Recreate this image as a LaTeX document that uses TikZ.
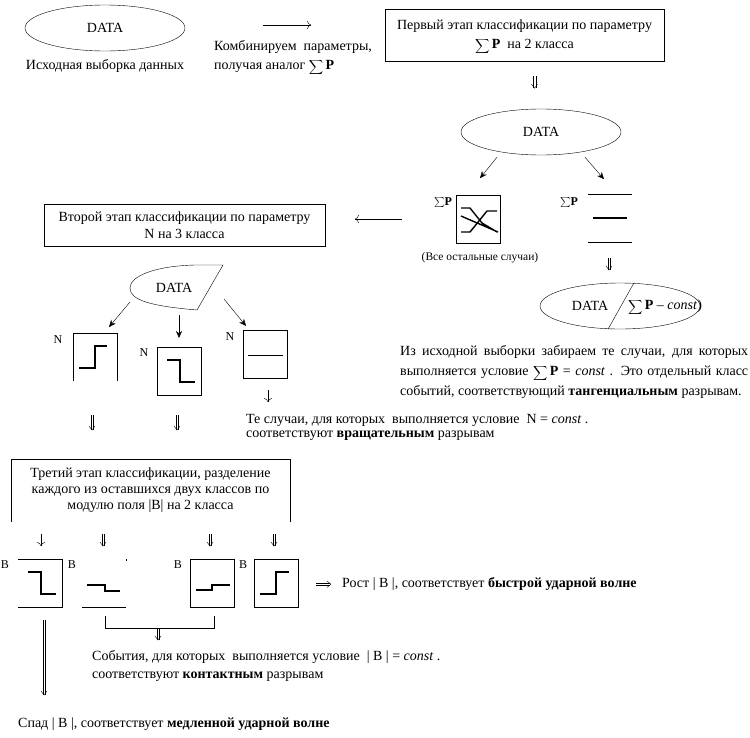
\documentclass[tikz,border=0pt]{standalone}
\usepackage{fontspec}
\setmainfont{Liberation Serif}
\usetikzlibrary{arrows.meta, positioning, calc, shapes.geometric}
\newcommand{\sumP}{\raisebox{-2pt}{\smash{$\displaystyle\sum$}}\,\textbf{P}}
\newcommand{\plotbox}[4]{%
  % square with a curve inside, #2 #3 is its top left corner
  \begin{scope}[shift={(#2, #3)}]
    \node[plotframe] (#1) at (22, 24) {};
    \draw[jump] #4;
  \end{scope}
}
\newcommand{\dblarrow}[4]{%
  % two lines down from anchor #1: x offset #2, y offsets #3 to #4
  \draw[thin] ([shift={(#2-1.2, #3)}] #1) -- ([shift={(#2-1.2, #4)}] #1);
  \draw[thin] ([shift={(#2+1.2, #3)}] #1) -- ([shift={(#2+1.2, #4)}] #1);
  \draw[thin] ([shift={(#2-3, #4-4)}] #1) -- ([shift={(#2, #4)}] #1) -- ([shift={(#2+3, #4-4)}] #1);
}

\begin{document}
\begin{tikzpicture}[
    x=1pt, y=-1pt,
    datablob/.style={ellipse, draw, thin, inner sep=0pt, minimum width=160pt, minimum height=46pt},
    stagebox/.style={rectangle, draw, thin, inner sep=0pt},
    plotframe/.style={rectangle, draw, thin, inner sep=0pt, outer sep=0pt, minimum width=44pt, minimum height=48pt},
    opencase/.style={plotframe, draw=none},
    jump/.style={line width=1.4pt},
    lbl/.style={font=\fontsize{12}{14}\selectfont, inner sep=0pt},
    txt/.style={anchor=west, inner sep=0pt},
    arrow/.style={thin, -{Stealth[length=7pt,width=6pt]}},
    openarrow/.style={thin, -{To[length=4pt]}},
    font=\fontsize{14}{16}\selectfont
  ]
  \useasboundingbox (0, 0) rectangle (750, 737);

  % source sample
  \node[datablob] (data0) at (105, 28) {DATA};
  \node[inner sep=0pt] (data0txt) at (105, 66) {Исходная выборка данных};
  \coordinate (combfrom) at (263, 25);
  \coordinate (combto) at (311, 25);
  \draw[openarrow] (combfrom) -- (combto);
  \node[txt] (combine) at (214, 47) {Комбинируем\ \ параметры,};
  \node[txt] (analog) at (214, 66) {получая аналог \sumP};

  % first stage
  \node[stagebox, minimum width=279pt, minimum height=52pt, align=center] (stage1) at (524.5, 35)
    {Первый этап классификации по параметру\\[3pt] \sumP\ \ на 2 класса};
  \node[datablob] (data1) at (541, 132) {DATA};
  \dblarrow{stage1.south}{10}{15}{27}

  \plotbox{mixed}{456}{195}{(5, 13) -- (14, 13) -- (26, 28) -- (41, 37)
    (5, 21) -- (42, 37) (5, 37) -- (14, 37) -- (31, 16) -- (41, 16)}
  \node[lbl] (mixedlbl) at (443, 202) {$\sum$\textbf{P}};
  \node[inner sep=0pt, font=\fontsize{11.5}{13}\selectfont] (mixedtxt) at (480, 258) {(Все остальные случаи)};
  \draw[arrow] ([shift={(-44, 2)}] data1.south) -- ([shift={(-61, 23)}] data1.south);
  \draw[arrow] ([shift={(44, 2)}] data1.south) -- ([shift={(63, 24)}] data1.south);

  \node[opencase] (flat) at (610, 218) {};
  \draw[thin] (flat.north west) -- (flat.north east);
  \draw[thin] (flat.south west) -- (flat.south east);
  \draw[jump] ([xshift=5pt] flat.west) -- ([xshift=-5pt] flat.east);
  \node[lbl] (flatlbl) at (569, 202) {$\sum$\textbf{P}};
  \dblarrow{flat.south}{-1}{16}{28}

  % sum P is constant
  \node[datablob] (data2) at (620, 306) {};
  \draw[thin] ([xshift=14pt] data2.north) -- ([xshift=-12pt] data2.south);
  \node[inner sep=0pt] (data2a) at (590, 306) {DATA};
  \node[inner sep=0pt] (data2b) at (665, 306) {\sumP\ -- \textit{const})};
  \node[txt] (tangent1) at (400, 352)
    {\makebox[348pt][s]{Из исходной выборки забираем те случаи, для которых}};
  \node[txt] (tangent2) at (400, 372)
    {\makebox[348pt][s]{выполняется условие \sumP\ = \textit{const} . Это отдельный класс}};
  \node[txt] (tangent3) at (400, 392) {событий, соответствующий \textbf{тангенциальным} разрывам.};

  % second stage
  \node[stagebox, minimum width=281pt, minimum height=42pt, align=center] (stage2) at (184.5, 225)
    {Второй этап классификации по параметру\\[1pt] N на 3 класса};
  \draw[openarrow] ([xshift=-54pt] mixed.west) -- ([xshift=-101pt] mixed.west);
  \coordinate (cutnw) at (195, 265);
  \coordinate (cutne) at (223, 265);
  \coordinate (cutse) at (197, 310);
  \draw[thin] (cutnw) -- (cutne) -- (cutse) .. controls (150, 306) and (130, 300) .. (130, 288)
    .. controls (130, 276) and (155, 266) .. (cutnw);
  \node[inner sep=0pt] (data3) at (174, 288) {DATA};

  \node[opencase] (rise) at (95, 357) {};
  \draw[thin] (rise.south west) -- (rise.north west) -- (rise.north east) -- (rise.south east);
  \draw[jump] (79, 368) -- (95, 368) -- (95, 346) -- (107, 346);
  \plotbox{fall}{157}{347}{(10, 13) -- (23, 13) -- (23, 35) -- (38, 35)}
  \plotbox{level}{243}{330}{[thin] (5, 25) -- (40, 25)}
  \node[lbl] (riselbl) at (58, 340) {N};
  \node[lbl] (falllbl) at (144, 353) {N};
  \node[lbl] (levellbl) at (230, 337) {N};
  \draw[arrow] ([shift={(-44, 14)}] data3.center) -- ([shift={(-65, 39)}] data3.center);
  \draw[arrow] ([shift={(5, 27)}] data3.center) -- ([shift={(5, 50)}] data3.center);
  \draw[arrow] ([shift={(50, 11)}] data3.center) -- ([shift={(72, 38)}] data3.center);
  \draw[openarrow] ([shift={(3, 12)}] level.south) -- ([shift={(3, 24)}] level.south);
  \dblarrow{rise.south}{-3}{34}{49}
  \dblarrow{fall.south}{-2}{20}{35}
  \node[txt] (rotate1) at (246, 420) {Те случаи, для которых\ \ выполняется условие\ \ N = \textit{const} .};
  \node[txt] (rotate2) at (246, 436) {соответствуют \textbf{вращательным} разрывам};

  % third stage
  \node[stagebox, draw=none, minimum width=279pt, minimum height=63pt, align=center] (stage3) at (150.5, 490.5)
    {Третий этап классификации, разделение\\ каждого из оставшихся двух классов по\\ модулю поля |B| на 2 класса};
  \draw[thin] (stage3.south west) -- (stage3.north west) -- (stage3.north east) -- (stage3.south east);

  \node[opencase] (drop) at (40, 583) {};
  \draw[thin] (drop.north west) -- (drop.north east) -- (drop.south east) -- (drop.south west);
  \draw[jump] (28, 572) -- (41, 572) -- (41, 594) -- (56, 594);
  \node[opencase] (dropsmall) at (104, 583) {};
  \draw[thin] (dropsmall.south west) -- (dropsmall.south east);
  \draw[thin] (dropsmall.north east) -- ([yshift=-2pt] dropsmall.north east);
  \draw[jump] (87, 585) -- (105, 585) -- (105, 591) -- (120, 591);
  \plotbox{risesmall}{190}{559}{(6, 31) -- (22, 31) -- (22, 26) -- (40, 26)}
  \plotbox{risebig}{254}{559}{(6, 35) -- (22, 35) -- (22, 13) -- (35, 13)}
  \node[lbl] (droplbl) at (5, 565) {B};
  \node[lbl] (dropsmalllbl) at (72, 565) {B};
  \node[lbl] (risesmalllbl) at (178, 565) {B};
  \node[lbl] (risebiglbl) at (243, 565) {B};
  \draw[openarrow] ([shift={(1, -25)}] drop.north) -- ([shift={(1, -13)}] drop.north);
  \dblarrow{dropsmall.north}{-1}{-25}{-13}
  \dblarrow{risesmall.north}{-2}{-25}{-13}
  \dblarrow{risebig.north}{-2}{-25}{-13}
  \node[txt] (fasttxt) at (342, 584) {Рост | B |, соответствует \textbf{быстрой ударной волне}};
  \draw[thin] ([shift={(18, 0)}] risebig.east) -- ([shift={(32, 0)}] risebig.east);
  \draw[thin] ([shift={(18, 2.4)}] risebig.east) -- ([shift={(32, 2.4)}] risebig.east);
  \draw[thin] ([shift={(29, -2)}] risebig.east) -- ([shift={(33, 1.2)}] risebig.east) -- ([shift={(29, 4.4)}] risebig.east);

  % brackets and results
  \draw[thin] ([shift={(1, 9)}] dropsmall.south) -- ([shift={(1, 21)}] dropsmall.south)
    -- ([shift={(110, 21)}] dropsmall.south) -- ([shift={(110, 9)}] dropsmall.south);
  \dblarrow{dropsmall.south}{54}{21}{33}
  \node[txt] (contact1) at (92, 657) {События, для которых\ \ выполняется условие\ \ | B | = \textit{const} .};
  \node[txt] (contact2) at (92, 677) {соответствуют \textbf{контактным} разрывам};
  \dblarrow{drop.south}{4}{13}{88}
  \node[txt] (slowtxt) at (18, 724) {Спад | B |, соответствует \textbf{медленной ударной волне}};
\end{tikzpicture}
\end{document}
